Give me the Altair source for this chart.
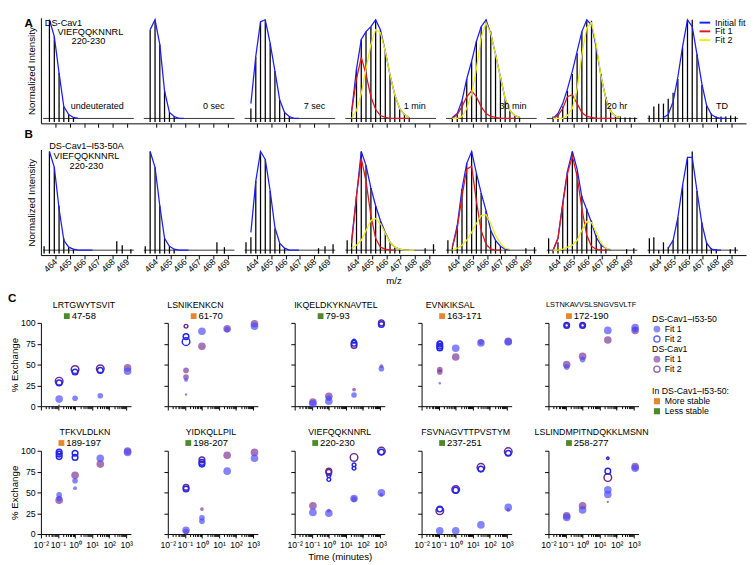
import altair as alt
import pandas as pd

FONT = "Liberation Sans"

# ---------------- Panels A / B : VIEFQQKNNRL (220-230), z = 3 isotope envelopes ----------------
ISO_MZ = [463.59, 463.93, 464.26, 464.59, 464.93, 465.26, 465.59, 465.93, 466.26,
          466.59, 466.93, 467.26, 467.59, 467.93, 468.26, 468.59, 468.93, 469.26]
MZ_TICKS = [464, 465, 466, 467, 468, 469]
TIME_LABELS = ["undeuterated", "0 sec", "7 sec", "1 min", "30 min", "20 hr", "TD"]
FIT_NAMES = ["Initial fit", "Fit 1", "Fit 2"]

A_STICK = [
    [1.0, 0.83, 0.46, 0.12, 0.04, 0.01],
    [0.9, 1.0, 0.75, 0.28, 0.06, 0.02],
    [0.1, 0.62, 0.98, 1.0, 0.76, 0.48, 0.19, 0.06, 0.02],
    [0.07, 0.5, 0.8, 0.88, 0.93, 1.0, 0.9, 0.68, 0.44, 0.24, 0.1, 0.04, 0.01],
    [0.01, 0.05, 0.18, 0.4, 0.58, 0.78, 0.93, 1.0, 0.88, 0.65, 0.42, 0.2, 0.08, 0.03, 0.01],
    [0.02, 0.05, 0.12, 0.28, 0.45, 0.66, 0.88, 1.0, 0.99, 0.72, 0.45, 0.22, 0.08, 0.03, 0.02, 0.01, 0.01, 0.01],
    [0.12, 0.15, 0.15, 0.2, 0.26, 0.4, 0.72, 1.0, 1.0, 0.65, 0.34, 0.13, 0.05, 0.02, 0.02, 0.02, 0.03, 0.02],
]
A_EXTRA = [[], [], [], [], [], [], [(463.27, 0.03)]]
A_BLUE = [
    [1.0, 0.83, 0.46, 0.12, 0.04, 0.01, 0.0],
    [0.9, 1.0, 0.75, 0.28, 0.06, 0.02, 0.0, 0.0],
    [0.15, 0.63, 0.98, 1.0, 0.76, 0.48, 0.19, 0.06, 0.02, 0.0, 0.0],
    [0.07, 0.5, 0.8, 0.88, 0.93, 1.0, 0.9, 0.68, 0.44, 0.24, 0.1, 0.04, 0.01],
    [0.01, 0.05, 0.18, 0.4, 0.58, 0.78, 0.93, 1.0, 0.86, 0.65, 0.42, 0.2, 0.08, 0.03, 0.01],
    [0.0, 0.05, 0.15, 0.3, 0.48, 0.68, 0.88, 1.0, 0.95, 0.72, 0.42, 0.2, 0.07, 0.02, 0.01],
    [None, None, 0.01, 0.04, 0.17, 0.42, 0.73, 1.0, 0.93, 0.65, 0.35, 0.13, 0.04, 0.01, 0.0, 0.0],
]
A_RED = [None, None, None,
         [0.07, 0.4, 0.62, 0.45, 0.22, 0.09, 0.03, 0.01, 0.0, 0.0, 0.0, 0.0, 0.0],
         [0.0, 0.04, 0.12, 0.22, 0.28, 0.22, 0.12, 0.05, 0.02, 0.01, 0.0, 0.0, 0.0, 0.0],
         [0.0, 0.03, 0.1, 0.22, 0.24, 0.15, 0.06, 0.02, 0.01, 0.0, 0.0, 0.0, 0.0, 0.0],
         None]
A_YELLOW = [None, None, None,
            [0.0, 0.08, 0.25, 0.5, 0.75, 0.9, 0.87, 0.68, 0.44, 0.24, 0.1, 0.04, 0.01],
            [0.0, 0.0, 0.02, 0.1, 0.25, 0.5, 0.82, 0.97, 0.86, 0.65, 0.42, 0.2, 0.08, 0.03, 0.01],
            [0.0, 0.0, 0.0, 0.03, 0.1, 0.3, 0.65, 0.92, 0.97, 0.75, 0.42, 0.2, 0.07, 0.02, 0.01],
            None]

B_STICK = [
    [1.0, 0.84, 0.45, 0.12, 0.03, 0.01],
    [1.0, 0.84, 0.45, 0.12, 0.04, 0.01],
    [0.13, 0.7, 1.0, 0.92, 0.6, 0.22, 0.07, 0.02],
    [0.1, 0.55, 1.0, 0.86, 0.63, 0.45, 0.3, 0.18, 0.08, 0.03, 0.01],
    [0.03, 0.25, 0.62, 0.88, 1.0, 0.78, 0.58, 0.4, 0.2, 0.1, 0.04, 0.01],
    [0.0, 0.08, 0.48, 0.8, 1.0, 0.8, 0.55, 0.42, 0.3, 0.15, 0.06, 0.02],
    [0.13, 0.0, 0.08, 0.03, 0.1, 0.33, 0.66, 0.93, 1.0, 0.6, 0.28, 0.08, 0.02, 0.01],
]
B_EXTRA = [
    [(463.22, 0.04), (468.27, 0.09), (468.65, 0.05), (469.25, 0.01)],
    [(463.25, 0.04), (468.23, 0.08), (468.75, 0.03)],
    [(463.25, 0.08), (468.29, 0.02), (468.74, 0.04), (469.3, 0.06)],
    [(463.28, 0.1), (468.7, 0.02), (469.28, 0.06)],
    [(463.28, 0.1), (468.7, 0.02), (469.3, 0.03)],
    [(463.28, 0.12), (468.7, 0.01), (469.2, 0.02)],
    [(463.28, 0.12), (468.9, 0.01), (469.25, 0.03)],
]
B_BLUE = [
    [1.0, 0.84, 0.42, 0.1, 0.03, 0.01, 0.0, 0.0, 0.0, 0.0],
    [1.0, 0.84, 0.45, 0.12, 0.04, 0.01, 0.0, 0.0, 0.0],
    [0.18, 0.7, 1.0, 0.92, 0.6, 0.23, 0.07, 0.02, 0.0, 0.0, 0.0],
    [0.1, 0.55, 1.0, 0.86, 0.63, 0.45, 0.3, 0.18, 0.08, 0.03, 0.01, 0.0, 0.0],
    [0.03, 0.25, 0.62, 0.88, 1.0, 0.78, 0.58, 0.4, 0.2, 0.1, 0.04, 0.01, 0.0],
    [0.0, 0.12, 0.48, 0.8, 1.0, 0.82, 0.54, 0.41, 0.28, 0.13, 0.05, 0.02, 0.0],
    [None, None, None, 0.02, 0.1, 0.33, 0.66, 0.94, 0.94, 0.6, 0.27, 0.07, 0.01, 0.0, 0.0],
]
B_RED = [None, None, None,
         [0.07, 0.55, 0.93, 0.7, 0.35, 0.12, 0.03, 0.01, 0.0, 0.0],
         [0.03, 0.22, 0.55, 0.82, 0.85, 0.5, 0.2, 0.06, 0.01, 0.0, 0.0],
         [0.0, 0.12, 0.46, 0.78, 0.95, 0.75, 0.42, 0.15, 0.04, 0.01, 0.0, 0.0],
         None]
B_YELLOW = [None, None, None,
            [0.02, 0.05, 0.1, 0.2, 0.3, 0.32, 0.27, 0.17, 0.08, 0.03, 0.01, 0.0, 0.0, 0.0],
            [0.0, 0.02, 0.05, 0.1, 0.18, 0.27, 0.35, 0.36, 0.27, 0.15, 0.07, 0.02, 0.01],
            [0.0, 0.0, 0.01, 0.03, 0.05, 0.1, 0.2, 0.29, 0.28, 0.18, 0.07, 0.02, 0.01],
            None]

# ---------------- Panel C : % exchange vs time ----------------
PEPTIDES = ["LRTGWYTSVIT", "LSNIKENKCN", "IKQELDKYKNAVTEL", "EVNKIKSAL", "LSTNKAVVSLSNGVSVLTF",
            "TFKVLDLKN", "YIDKQLLPIL", "VIEFQQKNNRL", "FSVNAGVTTPVSTYM", "LSLINDMPITNDQKKLMSNN"]
RANGES = ["47-58", "61-70", "79-93", "163-171", "172-190",
          "189-197", "198-207", "220-230", "237-251", "258-277"]
STABILITY = ["less", "more", "less", "more", "more", "more", "less", "less", "less", "less"]
TIMES_MIN = [0.1167, 1.0, 30.0, 1200.0]
# (time index, % exchange, series, marker size class); series: I = DS-Cav1-I53-50, C = DS-Cav1
POINTS = [
    [(0, 30, "C2", "L"), (0, 28, "I2", "M"), (0, 8.5, "I1", "L"), (0, 0.5, "C1", "T"),
     (1, 44, "C2", "L"), (1, 41, "I2", "M"), (1, 9.5, "I1", "M"),
     (2, 45, "C2", "L"), (2, 43, "I2", "M"), (2, 12.5, "I1", "M"),
     (3, 46, "C1", "L"), (3, 42, "I1", "L")],
    [(0, 96, "C2", "S"), (0, 83.5, "I2", "M"), (0, 77.5, "I2", "L"), (0, 43, "C1", "M"), (0, 35, "C1", "M"),
     (0, 31.5, "I1", "S"), (0, 14, "I1", "T"),
     (1, 90, "I1", "L"), (1, 72, "C1", "L"),
     (2, 93, "C1", "L"), (2, 92, "I1", "M"),
     (3, 99, "C1", "L"), (3, 96, "I1", "L")],
    [(0, 5, "C1", "L"), (0, 3, "I1", "L"),
     (1, 12, "C1", "L"), (1, 9.5, "I1", "M"), (1, 6, "I1", "L"),
     (2, 78, "I2", "S"), (2, 75.5, "I2", "M"), (2, 73, "C2", "M"), (2, 20, "C1", "S"), (2, 13.5, "I1", "M"),
     (3, 100, "C2", "M"), (3, 98, "I2", "M"), (3, 48, "C1", "S"), (3, 45, "I1", "M")],
    [(0, 76, "C2", "S"), (0, 74.5, "I2", "M"), (0, 72, "I2", "M"), (0, 70, "I2", "M"), (0, 44, "C1", "M"),
     (0, 41, "C1", "M"), (0, 27.5, "I1", "T"),
     (1, 69.5, "I1", "L"), (1, 59, "C1", "L"),
     (2, 77, "C1", "M"), (2, 76, "I1", "L"),
     (3, 78, "C1", "L"), (3, 77, "I1", "L")],
    [(0, 97, "I2", "M"), (0, 97, "C2", "S"), (0, 50, "C1", "L"), (0, 47, "I1", "M"),
     (1, 97, "I2", "M"), (1, 97, "C2", "S"), (1, 60, "C1", "L"), (1, 56, "I1", "M"),
     (2, 91, "I1", "L"), (2, 79.5, "C1", "L"),
     (3, 94.5, "I1", "L"), (3, 91, "C1", "L"), (3, 92, "I1", "M")],
    [(0, 98.5, "I2", "M"), (0, 96, "I2", "M"), (0, 93, "I2", "M"), (0, 97, "C2", "S"), (0, 40.7, "C1", "L"),
     (0, 47, "I1", "M"), (0, 42.6, "I1", "M"),
     (1, 97, "I2", "M"), (1, 92, "I2", "M"), (1, 70.5, "C1", "L"), (1, 64, "I1", "M"), (1, 55, "I1", "S"),
     (2, 91, "I1", "L"), (2, 84, "C1", "L"),
     (3, 99.6, "C1", "L"), (3, 98, "I1", "L")],
    [(0, 56, "C2", "M"), (0, 54, "I2", "M"), (0, 4.5, "I1", "L"), (0, 3, "C1", "M"),
     (1, 89, "C2", "M"), (1, 86, "I2", "M"), (1, 84, "I2", "M"), (1, 30, "C1", "S"), (1, 19.5, "I1", "M"),
     (1, 15.5, "I1", "M"),
     (2, 94.5, "C1", "L"), (2, 75.5, "I1", "L"),
     (3, 98, "C1", "L"), (3, 91, "I1", "L")],
    [(0, 34, "C1", "L"), (0, 26, "I1", "L"),
     (1, 75.5, "C2", "M"), (1, 74, "C2", "M"), (1, 70, "I2", "S"), (1, 65.5, "I2", "S"), (1, 28, "C1", "S"),
     (1, 25, "I1", "L"),
     (2, 92, "C2", "L"), (2, 83, "I2", "S"), (2, 79, "I2", "S"), (2, 42.6, "I1", "L"), (2, 42, "C1", "M"),
     (3, 99.6, "C2", "L"), (3, 98.5, "I2", "M"), (3, 49.6, "I1", "L"), (3, 47, "C1", "S")],
    [(0, 28, "C2", "L"), (0, 30, "I2", "M"), (0, 4, "I1", "L"),
     (1, 53.5, "C2", "L"), (1, 52.7, "I2", "M"), (1, 4, "I1", "L"),
     (2, 80, "C2", "L"), (2, 78, "I2", "M"), (2, 11, "I1", "L"),
     (3, 99, "C2", "L"), (3, 97, "I2", "M"), (3, 32, "I1", "L"), (3, 29, "C1", "S")],
    [(0, 22, "C1", "L"), (0, 20, "I1", "L"),
     (1, 34, "C1", "L"), (1, 29, "I1", "L"),
     (2, 91, "I2", "T"), (2, 75.5, "I2", "M"), (2, 67.8, "C2", "L"), (2, 53, "I1", "L"), (2, 47.5, "I1", "L"),
     (2, 38.7, "C1", "T"),
     (3, 81, "C1", "L"), (3, 79, "I1", "L")],
]
LEGEND_C = [("DS-Cav1\u2013I53-50", "head"), ("Fit 1", "I1"), ("Fit 2", "I2"),
            ("DS-Cav1", "head"), ("Fit 1", "C1"), ("Fit 2", "C2"),
            ("In DS-Cav1\u2013I53-50:", "head"), ("More stable", "more"), ("Less stable", "less")]

# ---------------- styles / layout ----------------
STEP = 7.0
FIT_COLORS = ["#1c1cff", "#e0161c", "#eeee12"]
SERIES_COL = {"I1": "#4a4aff", "I2": "#2424f0", "C1": "#7a3494", "C2": "#6a2a8c"}
LEG_COL = {"I1": "#8c8cf8", "I2": "#2424f0", "C1": "#ad7fc2", "C2": "#6a2a8c",
           "more": "#e6862e", "less": "#4b8b2a"}
SIZE_AREA = {"T": 6, "S": 15, "M": 34, "L": 62}
TITLE_DX = [-2, -18, -4, -17, -2.5, -1, -2, 0, -1, -2]
TITLE_FS = [9.1, 9.1, 9.1, 9.1, 7.6, 9.1, 9.1, 9.1, 9.1, 9.1]
ONE = pd.DataFrame({"_": [0]})


def txt(text, x, y, size=9.5, align="center", weight="normal"):
    return alt.Chart(ONE).mark_text(text=text, align=align, baseline="middle", fontSize=size,
                                    fontWeight=weight, font=FONT, color="black").encode(
        x=alt.value(x), y=alt.value(y))


def frame(x0, y0, x1, y1):
    # invisible diagonal rule that fixes the layout extent of a panel
    return alt.Chart(ONE).mark_rule(opacity=0, strokeWidth=0.5).encode(
        x=alt.value(x0), x2=alt.value(x1), y=alt.value(y0), y2=alt.value(y1))


def spectra_row(stick, extra, blue, red, yellow, row):
    srows = []
    for p, hs in enumerate(stick):
        for k, h in enumerate(hs):
            srows.append({"mz": ISO_MZ[k] + STEP * p, "h": h})
        for mz, h in extra[p]:
            srows.append({"mz": mz + STEP * p, "h": h})
    sdf = pd.DataFrame(srows)
    sdf["lo"] = -0.035
    bdf = pd.DataFrame({"x0": [463.15 + STEP * p for p in range(7)],
                        "x1": [469.45 + STEP * p for p in range(7)]})
    bdf["zero"] = 0.0

    xs = alt.Scale(domain=[463.0, 463.0 + 7 * STEP], nice=False, zero=False)
    ys = alt.Scale(domain=[-0.05, 1.02], nice=False, zero=False)
    tick_vals = [m + STEP * p for p in range(7) for m in MZ_TICKS]
    if row == "A":
        xaxis = alt.Axis(values=tick_vals, labels=False, tickSize=4, title=None)
    else:
        xaxis = alt.Axis(values=tick_vals, labelExpr="(datum.value - 463) % 7 + 463", labelAngle=-45,
                         labelAlign="right", labelBaseline="middle", labelFlush=False, labelOverlap=False,
                         labelPadding=1, tickSize=4, title="m/z", titlePadding=2, labelFontSize=9)
    yaxis = alt.Axis(labels=False, ticks=False, title="Normalized Intensity", titlePadding=5)

    layers = [
        alt.Chart(bdf).mark_rule(color="black", strokeWidth=0.8).encode(
            x=alt.X("x0:Q", scale=xs, axis=xaxis), x2="x1:Q", y=alt.Y("zero:Q", scale=ys, axis=yaxis)),
        alt.Chart(sdf).mark_rule(color="black", strokeWidth=1.3).encode(
            x=alt.X("mz:Q", scale=xs, axis=xaxis), y=alt.Y("h:Q", scale=ys, axis=yaxis), y2="lo:Q"),
    ]
    for name, arrs, col in zip(FIT_NAMES, [blue, red, yellow], FIT_COLORS):
        frows = []
        for p, vals in enumerate(arrs):
            if vals is None:
                continue
            for k, v in enumerate(vals):
                if v is None:
                    continue
                frows.append({"panel": p, "mz": ISO_MZ[k] + STEP * p, "v": v})
        if not frows:
            continue
        layers.append(alt.Chart(pd.DataFrame(frows)).mark_line(strokeWidth=1.3, color=col).encode(
            x=alt.X("mz:Q", scale=xs, axis=xaxis), y=alt.Y("v:Q", scale=ys, axis=yaxis),
            detail="panel:N", order="mz:Q"))
    if row == "A":
        ldf = pd.DataFrame({"label": TIME_LABELS, "lx": [468.75 + STEP * p for p in range(7)]})
        ldf["ly"] = 0.13
        layers.append(alt.Chart(ldf).mark_text(align="right", baseline="middle", fontSize=9.3, font=FONT,
                                               color="black").encode(
            x=alt.X("lx:Q", scale=xs, axis=xaxis), y=alt.Y("ly:Q", scale=ys, axis=yaxis), text="label:N"))
        layers += [txt("A", -17, 6, 12, "left", "bold"),
                   txt("DS-Cav1", 4, 5, 9.5, "left"),
                   txt("VIEFQQKNNRL", 51, 14.5, 9.5),
                   txt("220-230", 49, 24, 9.5)]
        for i, (name, col) in enumerate(zip(FIT_NAMES, FIT_COLORS)):
            ly = 5 + 9 * i
            layers.append(alt.Chart(ONE).mark_rule(color=col, strokeWidth=2).encode(
                x=alt.value(680), x2=alt.value(691), y=alt.value(ly)))
            layers.append(txt(name, 696, ly, 9.3, "left"))
        layers.append(frame(-17, 0, 730, 113))
    else:
        layers += [txt("B", -17, -16, 12, "left", "bold"),
                   txt("DS-Cav1\u2013I53-50A", 47, -4, 9.5),
                   txt("VIEFQQKNNRL", 47, 6.5, 9.5),
                   txt("220-230", 47, 17, 9.5)]
        layers.append(frame(-17, -22, 730, 143))
    return alt.layer(*layers).properties(width=728, height=109)


XT = [m * 10.0 ** d for d in range(-2, 4) for m in range(1, 10) if m * 10.0 ** d <= 1900]
LOG_LABELS = [(0.01, "10\u207b\u00b2"), (0.1, "10\u207b\u00b9"), (1, "10\u2070"),
              (10, "10\u00b9"), (100, "10\u00b2"), (1000, "10\u00b3")]
LOG_EXPR = " : ".join(f"datum.value == {k} ? '{v}'" for k, v in LOG_LABELS) + " : ''"
MAJOR_TEST = " || ".join(f"datum.value == {k}" for k, _ in LOG_LABELS)


def c_panel(i, row, col):
    rows = []
    for t, v, s, sz in POINTS[i]:
        rows.append({"t": TIMES_MIN[t], "v": v, "series": s, "area": SIZE_AREA[sz]})
    df = pd.DataFrame(rows)
    xs = alt.Scale(type="log", domain=[0.01, 1900], nice=False)
    ys = alt.Scale(domain=[0, 100], nice=False)
    xaxis = alt.Axis(values=XT, labelExpr=LOG_EXPR, labels=(row == 1), labelFlush=False, labelOverlap=False,
                     tickSize={"condition": {"test": MAJOR_TEST, "value": 4}, "value": 2.5},
                     title=("Time (minutes)" if (row == 1 and col == 2) else None),
                     titlePadding=2, labelPadding=3, labelFontSize=9)
    yaxis = alt.Axis(values=[0, 25, 50, 75, 100], labels=(col == 0),
                     title=("% Exchange" if col == 0 else None), tickSize=4, titlePadding=1,
                     labelPadding=2, labelFontSize=9)
    size = alt.Size("area:Q", scale=None, legend=None)
    layers = []
    for s in ["C1", "I1"]:
        layers.append(alt.Chart(df).transform_filter(f"datum.series == '{s}'").mark_circle(
            opacity=0.68, color=SERIES_COL[s]).encode(
            x=alt.X("t:Q", scale=xs, axis=xaxis), y=alt.Y("v:Q", scale=ys, axis=yaxis), size=size))
    for s in ["C2", "I2"]:
        layers.append(alt.Chart(df).transform_filter(f"datum.series == '{s}'").mark_point(
            filled=False, strokeWidth=1.5, opacity=1, color=SERIES_COL[s]).encode(
            x=alt.X("t:Q", scale=xs, axis=xaxis), y=alt.Y("v:Q", scale=ys, axis=yaxis), size=size))

    cx = 46.5
    tw = 5.56 * sum(ch.isdigit() for ch in RANGES[i]) + 3.33
    gw = 8 + tw
    left = cx - 6 - gw / 2
    ty = -18.5 if row == 0 else -19.5
    ry = -7 if row == 0 else -8
    layers += [txt(PEPTIDES[i], cx + TITLE_DX[i], ty, TITLE_FS[i]),
               alt.Chart(ONE).mark_square(size=36, color=LEG_COL[STABILITY[i]], opacity=1).encode(
                   x=alt.value(left + 3), y=alt.value(ry)),
               txt(RANGES[i], left + 8, ry, 9.8, "left")]
    if row == 0 and col == 0:
        layers.append(txt("C", -34, -26, 12, "left", "bold"))
    if row == 0 and col == 4:
        for j, (label, kind) in enumerate(LEGEND_C):
            slot = j + (1.2 if j >= 6 else 0)
            y = -4 + 10.35 * slot
            if kind == "head":
                layers.append(txt(label, 107, y, 9, "left"))
                continue
            if kind in ("I1", "C1"):
                sym = alt.Chart(ONE).mark_circle(size=50, color=LEG_COL[kind], opacity=1)
            elif kind in ("I2", "C2"):
                sym = alt.Chart(ONE).mark_point(size=40, filled=False, strokeWidth=1.4, color=LEG_COL[kind])
            else:
                sym = alt.Chart(ONE).mark_square(size=40, color=LEG_COL[kind], opacity=1)
            layers.append(sym.encode(x=alt.value(112), y=alt.value(y)))
            layers.append(txt(label, 120, y, 9, "left"))
    x0 = -34 if col == 0 else -16
    if row == 0:
        layers.append(frame(x0, -32, 100, 97))
    else:
        layers.append(frame(x0, -26, 100, 112))
    return alt.layer(*layers).properties(width=93, height=86)


rowA = spectra_row(A_STICK, A_EXTRA, A_BLUE, A_RED, A_YELLOW, "A")
rowB = spectra_row(B_STICK, B_EXTRA, B_BLUE, B_RED, B_YELLOW, "B")
top = alt.vconcat(rowA, rowB, spacing=0)

row1 = alt.hconcat(*[c_panel(i, 0, i) for i in range(5)], spacing=15)
row2 = alt.hconcat(*[c_panel(5 + i, 1, i) for i in range(5)], spacing=15)
cblock = alt.vconcat(row1, row2, spacing=9)

chart = alt.vconcat(top, cblock, spacing=4).properties(padding=0).configure_view(
    stroke=None).configure_axis(
    grid=False, domainColor="black", tickColor="black", labelColor="black", titleColor="black",
    labelFont=FONT, titleFont=FONT, labelFontSize=9, titleFontSize=10, titleFontWeight="normal",
    domainWidth=1, tickWidth=1)

chart.save("out.html", embed_options={"renderer": "svg", "actions": False})
